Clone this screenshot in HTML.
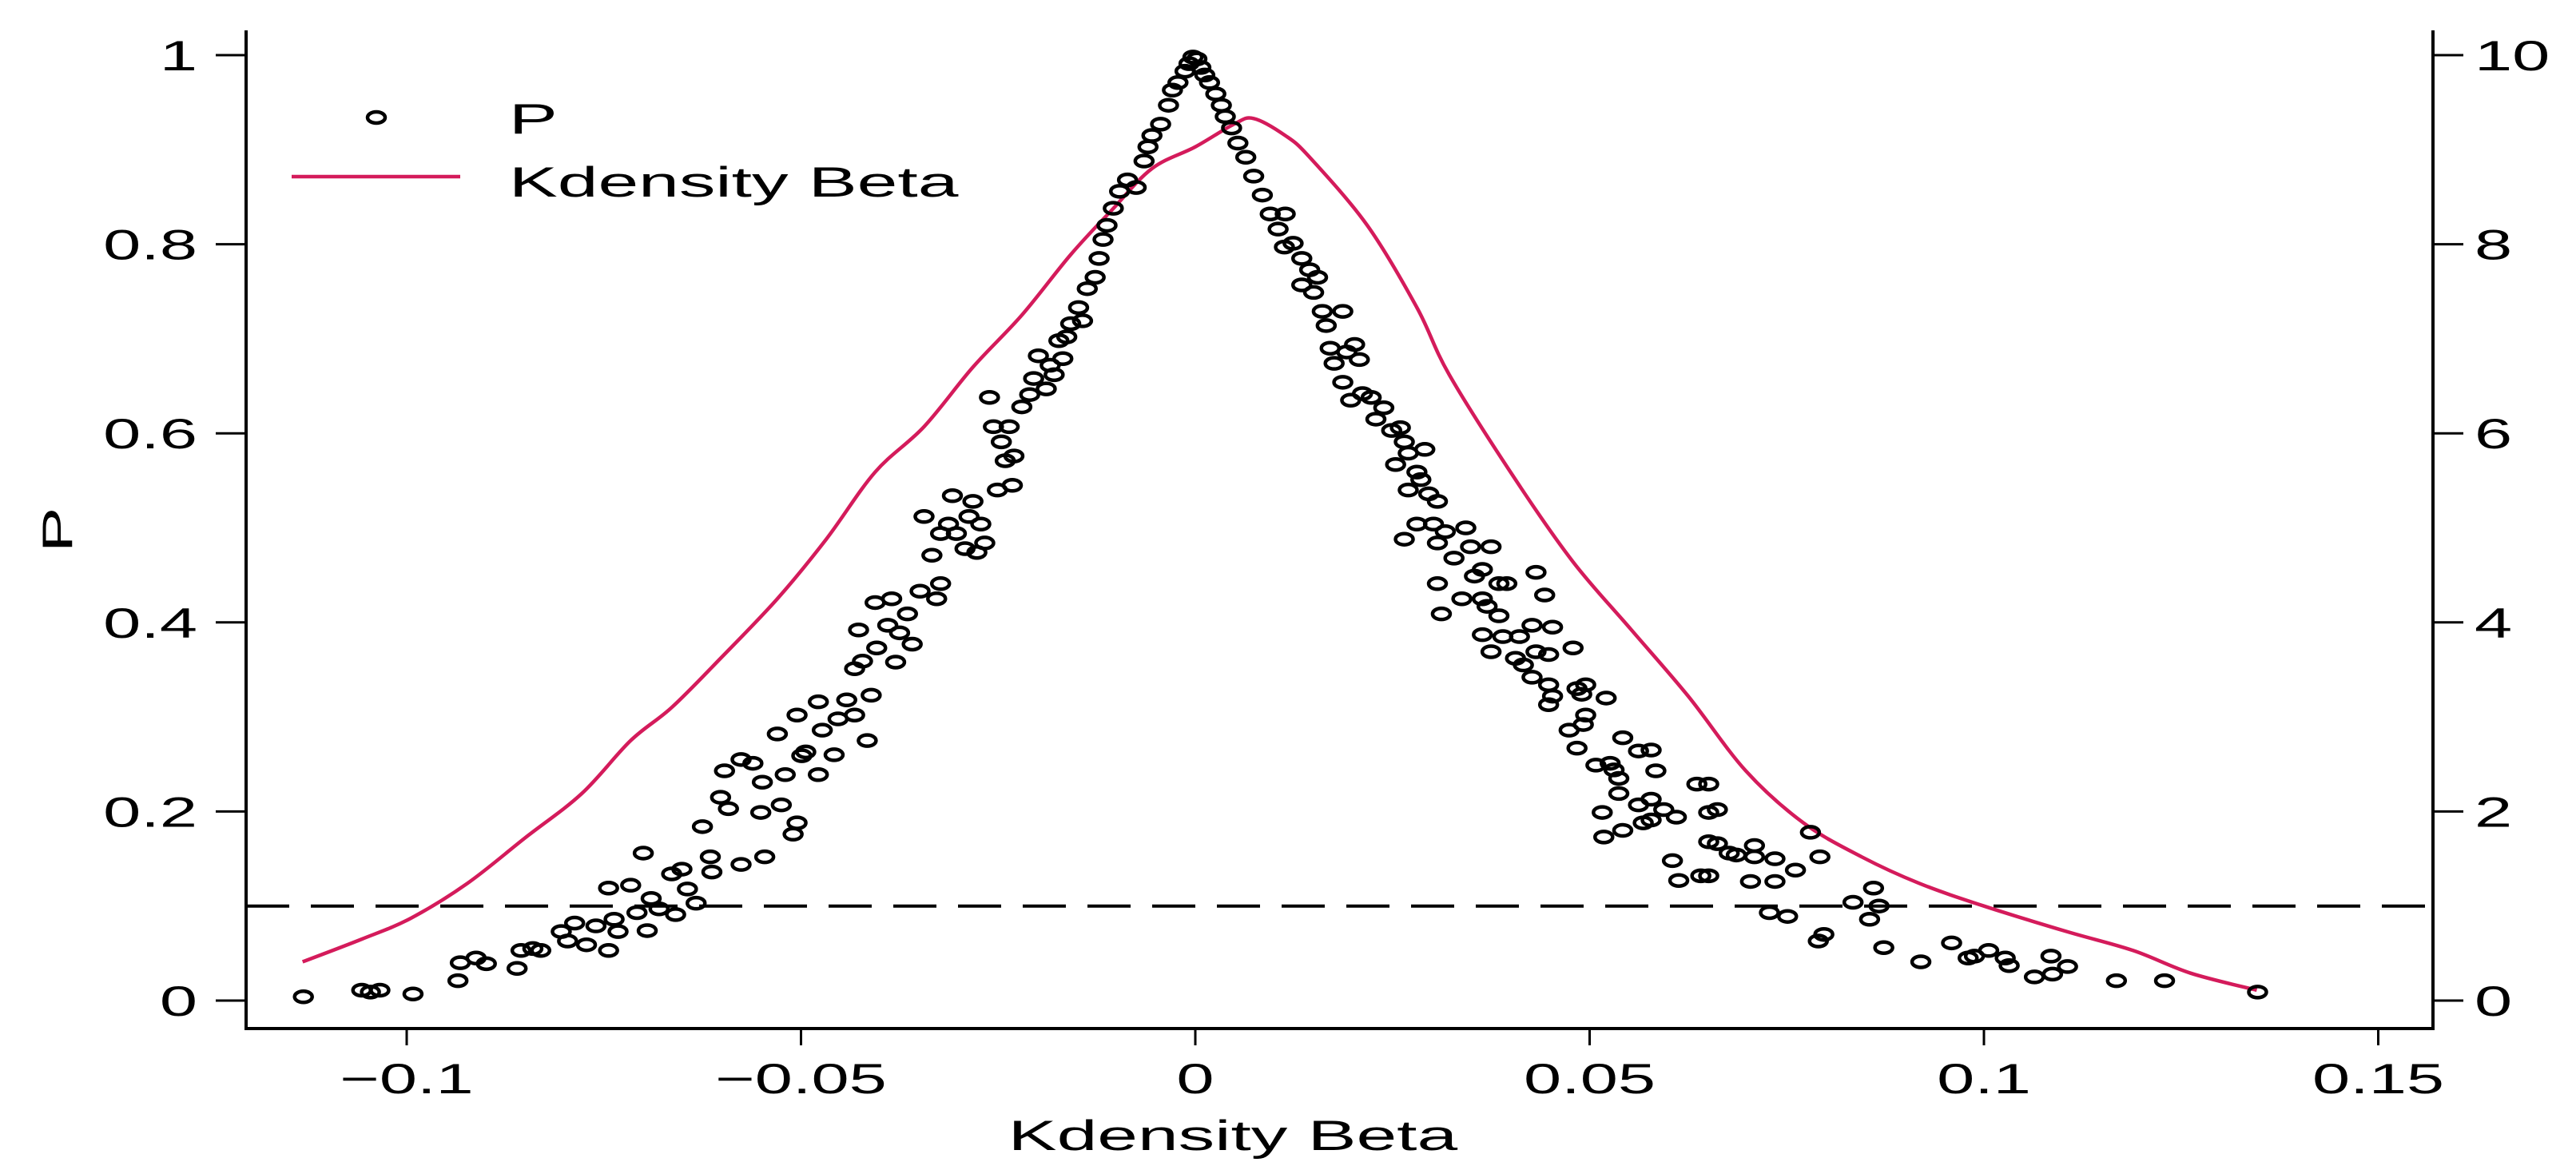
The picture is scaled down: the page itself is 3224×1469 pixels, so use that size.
<!DOCTYPE html>
<html><head><meta charset="utf-8"><style>html,body{margin:0;padding:0;background:#fff;overflow:hidden}svg{display:block}text{font-family:"Liberation Sans",sans-serif;fill:#000}</style></head>
<body>
<svg id="chart" width="3224" height="1469" viewBox="0 0 3224 1469" xmlns="http://www.w3.org/2000/svg">
<g id="axes"></g>
<g id="marks"></g>
<g id="legend"></g>
</svg>
<script>
const xTicks=[-0.1,-0.05,0,0.05,0.1,0.15];
const xTickLabels=["\u22120.1","\u22120.05","0","0.05","0.1","0.15"];
const yTicks=[0,0.2,0.4,0.6,0.8,1];
const yTickLabels=["0","0.2","0.4","0.6","0.8","1"];
const y2Ticks=[0,2,4,6,8,10];
const y2TickLabels=["0","2","4","6","8","10"];
const refLine=0.1;
const densX=[-0.1132,-0.1057,-0.0995,-0.0923,-0.085,-0.0778,-0.0716,-0.0664,-0.0602,-0.053,-0.0468,-0.0406,-0.0344,-0.0282,-0.022,-0.0158,-0.0106,-0.0055,0,0.0049,0.0074,0.0114,0.0145,0.0218,0.0281,0.0322,0.0406,0.0479,0.0552,0.0625,0.0698,0.0771,0.0845,0.0918,0.1,0.1105,0.1189,0.1262,0.1346];
const densY=[0.41,0.65,0.87,1.24,1.72,2.19,2.75,3.10,3.62,4.25,4.88,5.59,6.07,6.70,7.25,7.89,8.36,8.80,9.03,9.27,9.33,9.15,8.92,8.20,7.33,6.62,5.51,4.64,3.93,3.22,2.43,1.88,1.52,1.24,1.0,0.73,0.53,0.29,0.11];
const pX=[-0.1131,-0.1057,-0.1046,-0.1034,-0.0992,-0.0935,-0.0932,-0.0912,-0.0899,-0.086,-0.0855,-0.084,-0.083,-0.0804,-0.0796,-0.0787,-0.0772,-0.076,-0.0744,-0.0744,-0.0737,-0.0732,-0.0716,-0.0708,-0.07,-0.0695,-0.069,-0.068,-0.0664,-0.0659,-0.0651,-0.0644,-0.0633,-0.0625,-0.0615,-0.0613,-0.0602,-0.0597,-0.0592,-0.0576,-0.0576,-0.0561,-0.0551,-0.0549,-0.0546,-0.0525,-0.052,-0.051,-0.0505,-0.053,-0.0505,-0.0499,-0.0494,-0.0478,-0.0473,-0.0478,-0.0458,-0.0453,-0.0442,-0.0432,-0.0432,-0.0427,-0.0422,-0.0416,-0.0411,-0.0406,-0.0404,-0.039,-0.0385,-0.038,-0.0375,-0.0365,-0.0359,-0.0349,-0.0344,-0.0334,-0.0328,-0.0323,-0.0323,-0.0313,-0.0308,-0.0303,-0.0292,-0.0287,-0.0282,-0.0277,-0.0272,-0.0267,-0.0261,-0.0256,-0.0251,-0.0246,-0.0241,-0.0236,-0.0232,-0.023,-0.022,-0.021,-0.0205,-0.0199,-0.0189,-0.0184,-0.0179,-0.0173,-0.0168,-0.0163,-0.0158,-0.0148,-0.0143,-0.0137,-0.0127,-0.0122,-0.0117,-0.0112,-0.0104,-0.0096,-0.0086,-0.0075,-0.0065,-0.006,-0.0055,-0.0044,-0.0034,-0.0029,-0.0022,-0.0013,-0.0008,-0.0003,0.0002,0.0007,0.0012,0.0018,0.0026,0.0033,0.0038,0.0046,0.0054,0.0064,0.0074,0.0085,0.0095,0.0105,0.0113,0.0114,0.0124,0.0135,0.0145,0.0135,0.015,0.0155,0.0161,0.0166,0.0171,0.0176,0.0187,0.0192,0.0202,0.0208,0.0187,0.0197,0.0212,0.0223,0.0229,0.0239,0.0249,0.026,0.0265,0.027,0.0254,0.0281,0.0286,0.0291,0.027,0.0296,0.0307,0.0281,0.0302,0.0265,0.0307,0.0317,0.0328,0.0343,0.0349,0.0354,0.0375,0.0364,0.0307,0.0338,0.0364,0.037,0.0385,0.0395,0.0312,0.0385,0.0364,0.039,0.0411,0.0427,0.0453,0.0375,0.0406,0.0416,0.0432,0.0448,0.0432,0.0443,0.0427,0.0448,0.0453,0.0448,0.0479,0.0484,0.0495,0.049,0.0521,0.0495,0.0474,0.0492,0.0484,0.0508,0.0526,0.0531,0.0537,0.0542,0.0562,0.0578,0.0584,0.0537,0.0516,0.0518,0.0542,0.0562,0.0578,0.0568,0.0578,0.0594,0.061,0.0636,0.0651,0.0651,0.0662,0.0605,0.0613,0.0641,0.0651,0.0651,0.0662,0.0677,0.0686,0.0709,0.0709,0.0735,0.0704,0.0735,0.0761,0.0728,0.0751,0.078,0.0792,0.079,0.0797,0.0834,0.086,0.0867,0.0855,0.0873,0.092,0.0959,0.098,0.0988,0.1006,0.1027,0.1032,0.1064,0.1085,0.1087,0.1106,0.1168,0.1229,0.1347];
const pY=[0.004,0.011,0.009,0.011,0.007,0.021,0.04,0.045,0.039,0.034,0.053,0.055,0.053,0.073,0.063,0.082,0.059,0.079,0.053,0.119,0.086,0.073,0.122,0.093,0.156,0.074,0.108,0.097,0.134,0.091,0.139,0.118,0.103,0.184,0.152,0.136,0.215,0.243,0.203,0.144,0.255,0.251,0.199,0.231,0.152,0.207,0.239,0.176,0.188,0.282,0.302,0.259,0.263,0.239,0.286,0.316,0.26,0.298,0.318,0.302,0.351,0.392,0.359,0.275,0.323,0.421,0.373,0.397,0.425,0.358,0.389,0.409,0.377,0.433,0.512,0.471,0.425,0.441,0.494,0.504,0.534,0.494,0.478,0.512,0.528,0.474,0.504,0.484,0.638,0.607,0.54,0.591,0.571,0.607,0.545,0.576,0.628,0.641,0.658,0.682,0.647,0.672,0.662,0.698,0.679,0.702,0.716,0.733,0.719,0.753,0.765,0.785,0.805,0.82,0.838,0.856,0.868,0.86,0.888,0.903,0.915,0.927,0.947,0.963,0.971,0.983,0.991,0.998,0.996,0.987,0.979,0.971,0.959,0.947,0.935,0.923,0.907,0.892,0.872,0.852,0.832,0.816,0.797,0.832,0.801,0.785,0.773,0.757,0.749,0.765,0.729,0.714,0.69,0.674,0.729,0.686,0.694,0.678,0.654,0.635,0.642,0.638,0.615,0.627,0.603,0.606,0.591,0.579,0.567,0.559,0.551,0.583,0.54,0.536,0.528,0.504,0.504,0.488,0.484,0.496,0.468,0.5,0.48,0.449,0.48,0.456,0.441,0.425,0.425,0.417,0.441,0.441,0.409,0.407,0.387,0.385,0.385,0.397,0.395,0.369,0.362,0.355,0.369,0.366,0.453,0.429,0.342,0.334,0.322,0.313,0.373,0.33,0.334,0.324,0.32,0.302,0.286,0.292,0.267,0.249,0.251,0.244,0.235,0.278,0.264,0.265,0.243,0.219,0.199,0.173,0.18,0.207,0.213,0.188,0.191,0.202,0.194,0.229,0.229,0.199,0.202,0.148,0.127,0.132,0.132,0.168,0.166,0.156,0.154,0.164,0.152,0.15,0.126,0.126,0.138,0.093,0.089,0.178,0.152,0.063,0.07,0.104,0.119,0.1,0.086,0.056,0.041,0.061,0.045,0.047,0.053,0.045,0.037,0.025,0.047,0.028,0.036,0.021,0.021,0.009];

const NS="http://www.w3.org/2000/svg";
const L=308,R=3045,T=38,B=1287;
const X=v=>1496+v*9870;
const Y=v=>1252-v*1183;
const Y2=v=>Y(v/10);
const RED="#d41b5b";
const SX=1.6, SX2=1.72;
function mk(tag,attrs,parent){const e=document.createElementNS(NS,tag);for(const k in attrs)e.setAttribute(k,attrs[k]);parent.appendChild(e);return e;}
function txt(s,x,y,anchor,parent,sx,rot){const t=mk('text',{'font-size':53,'text-anchor':anchor,transform:`translate(${x},${y})${rot?' rotate('+rot+')':''} scale(${sx},1)`},parent);t.textContent=s;return t;}
function smooth(pts){let d='M'+pts[0][0]+','+pts[0][1];for(let i=0;i<pts.length-1;i++){const p0=pts[Math.max(0,i-1)],p1=pts[i],p2=pts[i+1],p3=pts[Math.min(pts.length-1,i+2)];d+=` C${p1[0]+(p2[0]-p0[0])/6},${p1[1]+(p2[1]-p0[1])/6} ${p2[0]-(p3[0]-p1[0])/6},${p2[1]-(p3[1]-p1[1])/6} ${p2[0]},${p2[1]}`;}return d;}
const axes=document.getElementById('axes'),marks=document.getElementById('marks'),legend=document.getElementById('legend');
let e;
e=mk('line',{x1:L,y1:T,x2:L,y2:B+2,stroke:'#000','stroke-width':4},axes);


e=mk('line',{x1:R,y1:T,x2:R,y2:B+2,stroke:'#000','stroke-width':4},axes);


e=mk('line',{x1:L-2,y1:B,x2:R+2,y2:B,stroke:'#000','stroke-width':4},axes);


yTicks.forEach((v,i)=>{mk('line',{x1:270,y1:Y(v),x2:L,y2:Y(v),stroke:'#000','stroke-width':3},axes);
e=txt(yTickLabels[i],247,Y(v)+19,'end',axes,SX);

});
y2Ticks.forEach((v,i)=>{mk('line',{x1:R,y1:Y2(v),x2:3083,y2:Y2(v),stroke:'#000','stroke-width':3},axes);
e=txt(y2TickLabels[i],3097,Y2(v)+19,'start',axes,SX);

});
xTicks.forEach((v,i)=>{mk('line',{x1:X(v),y1:B,x2:X(v),y2:1308,stroke:'#000','stroke-width':3},axes);
e=txt(xTickLabels[i],X(v),1368,'middle',axes,SX);

});
e=txt('Kdensity Beta',1543,1439,'middle',axes,SX2);


e=txt('P',90,663,'middle',axes,SX,-90);


e=mk('line',{x1:L,y1:Y(refLine),x2:R,y2:Y(refLine),stroke:'#000','stroke-width':4,'stroke-dasharray':'54 27'},marks);


e=mk('path',{d:smooth(densX.map((v,i)=>[X(v),Y2(densY[i])])),fill:'none',stroke:RED,'stroke-width':4.5,'stroke-linejoin':'round'},marks);


pX.forEach((v,i)=>{const c=mk('ellipse',{cx:X(v),cy:Y(pY[i]),rx:11,ry:7,fill:'none',stroke:'#000','stroke-width':4.5},marks);

});
e=mk('ellipse',{cx:471,cy:147,rx:11,ry:7,fill:'none',stroke:'#000','stroke-width':4.5},legend);


e=txt('P',637,167,'start',legend,SX2);


e=mk('line',{x1:365,y1:221,x2:576,y2:221,stroke:RED,'stroke-width':4.5},legend);


e=txt('Kdensity Beta',637,246,'start',legend,SX2);


</script>
</body></html>
